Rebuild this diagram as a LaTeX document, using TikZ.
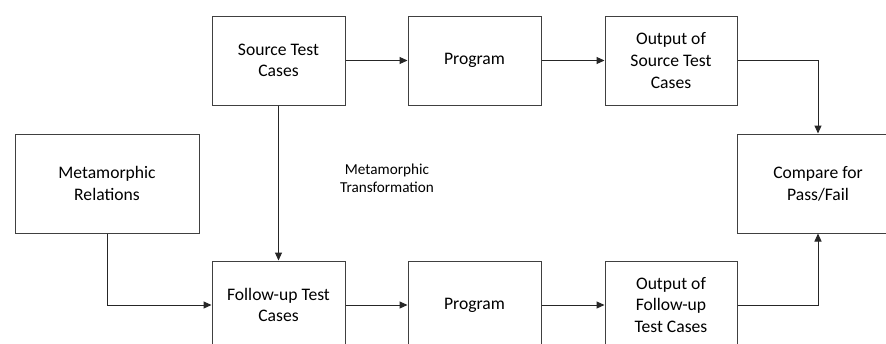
\documentclass[tikz,border=0pt]{standalone}
\usepackage{fontspec}
\setmainfont{Carlito}
\usetikzlibrary{arrows.meta}
\begin{document}
\begin{tikzpicture}[x=1pt,y=-1pt,
  box/.style={draw=black!75, line width=1pt, fill=white, align=center, inner sep=0pt,
    font=\fontsize{17.6}{21.7}\selectfont},
  conn/.style={draw=black!85, line width=1pt, -{Triangle[length=8pt,width=7pt]}},
  lbl/.style={align=center, font=\fontsize{15.2}{18}\selectfont}]
\fill[white] (0,0) rectangle (886,343);
\useasboundingbox (0,0) rectangle (886,343);
\clip (0,0) rectangle (886,343);
\node[box, minimum width=133pt, minimum height=89pt] (src) at (278.5,60.5) {Source Test\\Cases};
\node[box, minimum width=133pt, minimum height=89pt] (prog1) at (474.5,60.5) {Program};
\node[box, minimum width=132pt, minimum height=89pt] (out1) at (671,60.5) {Output of\\Source Test\\Cases};
\node[box, minimum width=162pt, minimum height=99pt] (cmp) at (818,183.5) {Compare for\\Pass/Fail};
\node[box, minimum width=184pt, minimum height=99pt] (mr) at (107,183.5) {Metamorphic\\Relations};
\node[box, minimum width=133pt, minimum height=88pt] (fol) at (278.5,305) {Follow-up Test\\Cases};
\node[box, minimum width=133pt, minimum height=88pt] (prog2) at (474.5,305) {Program};
\node[box, minimum width=132pt, minimum height=88pt] (out2) at (671,305) {Output of\\Follow-up\\Test Cases};
\node[lbl] (mt) at (387,178) {Metamorphic\\Transformation};
\draw[conn] (src) -- (prog1);
\draw[conn] (prog1) -- (out1);
\draw[conn] (fol) -- (prog2);
\draw[conn] (prog2) -- (out2);
\draw[conn] (src) -- (fol);
\draw[conn] (mr.south) |- (fol.west);
\draw[conn] (out1.east) -| (cmp.north);
\draw[conn] (out2.east) -| (cmp.south);
\end{tikzpicture}
\end{document}
